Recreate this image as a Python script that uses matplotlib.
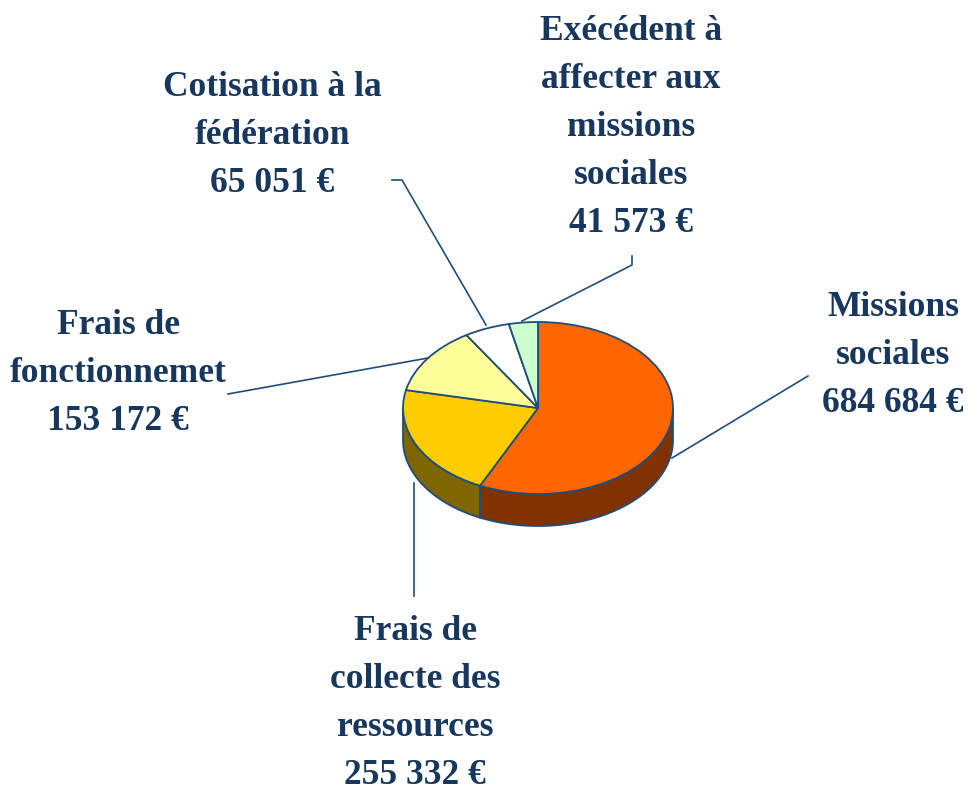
import numpy as np
import matplotlib
matplotlib.use('Agg')
import matplotlib.pyplot as plt

labels = ['Missions\nsociales\n684 684 €', 'Frais de\ncollecte des\nressources\n255 332 €',
          'Frais de\nfonctionnemet\n153 172 €', 'Cotisation à la\nfédération\n65 051 €',
          'Exécédent à\naffecter aux\nmissions\nsociales\n41 573 €']
values = [684684, 255332, 153172, 65051, 41573]
colors = ['#FF6600', '#FFCC00', '#FFFF99', '#FFFFFF', '#CCFFCC']
dark = ['#803300', '#806600', '#808050', '#808080', '#668066']

W, H = 972, 792
cx, cy, rx, ry = 538, 408, 135, 86
depth = 32
lim = 1.8
navy = '#17375E'
edge = '#1F4E79'

fig = plt.figure(figsize=(W/100, H/100), dpi=100)

# overlay in pixel coords for labels and leader lines
over = fig.add_axes([0, 0, 1, 1], zorder=3)
over.set_xlim(0, W)
over.set_ylim(H, 0)
over.axis('off')
over.patch.set_alpha(0)

# pie squashed to an ellipse
ax = fig.add_axes([(cx-lim*rx)/W, 1-(cy+lim*ry)/H, 2*lim*rx/W, 2*lim*ry/H], zorder=2)
wedges, _ = ax.pie(values, colors=colors, startangle=90, counterclock=False,
                   wedgeprops=dict(edgecolor=edge, linewidth=1.3))
ax.set_aspect('auto')
ax.set_xlim(-lim, lim)
ax.set_ylim(-lim, lim)

# side wall of the front wedges
frac = np.cumsum([0] + values) / sum(values) * 360
d = depth / ry
for i in range(len(values)):
    a0, a1 = max(frac[i], 90), min(frac[i+1], 270)
    if a1 <= a0:
        continue
    t = np.radians(np.linspace(a0, a1, 80))
    x = np.sin(t)
    y = np.cos(t)
    ax.fill(np.r_[x, x[::-1]], np.r_[y, y[::-1] - d], facecolor=dark[i],
            edgecolor=edge, linewidth=1.3, zorder=0.5)

# leader lines
leaders = [([808, 672], [376, 458]),
           ([414, 414], [596, 483]),
           ([228, 428], [394, 358]),
           ([392, 402, 486], [180, 180, 325]),
           ([632, 632, 522], [256, 265, 321])]
for lx, ly in leaders:
    over.plot(lx, ly, color=edge, lw=1.2)

# labels, centre of each text block
pos = [(893, 356), (415, 703), (118, 373), (272, 136), (631, 127)]
for s, (px, py) in zip(labels, pos):
    over.text(px, py, s, ha='center', va='center', color=navy, fontsize=25.5,
              fontweight='bold', family='Liberation Serif', linespacing=1.6)

fig.savefig('out.png', dpi=100)
